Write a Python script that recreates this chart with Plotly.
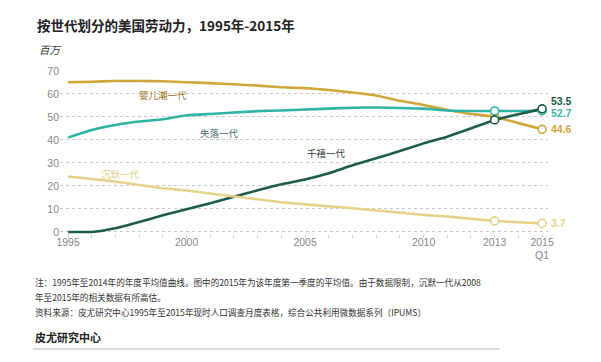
import plotly.graph_objects as go

years = list(range(1995, 2016))
boomers = [65.1, 65.3, 65.6, 65.6, 65.5, 65.1, 64.7, 64.2, 63.6, 62.9, 62.5, 61.7, 60.6, 59.3, 57.0, 55.2, 53.0, 51.3, 50.1, 47.3, 44.6]
genx = [41.0, 44.3, 46.5, 48.0, 49.0, 50.7, 51.3, 51.9, 52.5, 52.8, 53.2, 53.6, 54.0, 54.1, 53.9, 53.6, 52.8, 52.6, 52.6, 52.6, 52.7]
millennials = [0.0, 0.0, 1.6, 4.3, 7.2, 9.9, 12.5, 15.3, 18.1, 20.7, 22.8, 25.5, 29.0, 32.0, 35.2, 38.5, 41.4, 45.0, 48.7, 51.2, 53.5]
silent = [24.1, 23.0, 21.9, 20.4, 19.0, 18.0, 16.7, 15.4, 14.2, 12.9, 12.0, 11.1, 10.3, 9.3, 8.4, 7.4, 6.7, 5.7, 4.8, 4.2, 3.7]

series_names = ["婴儿潮一代", "失落一代", "千禧一代", "沉默一代"]
series_values = [boomers, genx, millennials, silent]
line_colors = ["#cfa63c", "#2fb3a3", "#1c5c48", "#e6d38a"]
label_colors = ["#a0701c", "#3f6d66", "#2a3a35", "#e2cf86"]
end_label_colors = ["#cfa63c", "#3bb5a6", "#1c5c48", "#e6d38a"]
label_pos = [(1999.0, 59.6), (2001.4, 43.0), (2005.9, 34.3), (1997.2, 25.2)]
end_label_y = [44.8, 51.9, 57.1, 3.9]

marker_years = [2013, 2015]
tick_vals = [1995, 2000, 2005, 2010, 2013, 2015]
tick_text = ["1995", "2000", "2005", "2010", "2013", "2015<br>Q1"]

W, H = 601, 362
OFF = 8  # default body margin of the page
L, R, T, B = 60 - OFF, 548 - OFF, 70 - OFF, 234 - OFF
PW, PH = R - L, B - T


def px_x(px):
    return (px - OFF - L) / PW


def px_y(py):
    return (B - (py - OFF)) / PH


fig = go.Figure()
for name, vals, col in zip(series_names, series_values, line_colors):
    fig.add_trace(go.Scatter(x=years, y=vals, mode="lines", name=name,
                             line=dict(color=col, width=2.6, shape="spline", smoothing=0.4),
                             hoverinfo="skip"))
for name, vals, col in zip(series_names, series_values, line_colors):
    my = [vals[years.index(y)] for y in marker_years]
    fig.add_trace(go.Scatter(x=marker_years, y=my, mode="markers",
                             marker=dict(symbol="circle", size=8, color="white",
                                         line=dict(color=col, width=1.6)),
                             hoverinfo="skip"))

annotations = []
for name, (ax, ay), col in zip(series_names, label_pos, label_colors):
    annotations.append(dict(x=ax, y=ay, xref="x", yref="y", text=name, showarrow=False,
                            font=dict(size=9.5, color=col, family="Noto Sans CJK SC")))
for vals, ey, col in zip(series_values, end_label_y, end_label_colors):
    annotations.append(dict(x=2015, y=ey, xref="x", yref="y", text="<b>%.1f</b>" % vals[-1],
                            showarrow=False, xanchor="left", xshift=7,
                            font=dict(size=10.5, color=col, family="Liberation Sans")))

text_items = [
    (35, 25, "<b>按世代划分的美国劳动力，1995年-2015年</b>", 13.5, "#222"),
    (37, 50, "<i>百万</i>", 10.5, "#333"),
    (33, 282, "注：1995年至2014年的年度平均值曲线。图中的2015年为该年度第一季度的平均值。由于数据限制，沉默一代从2008", 8.6, "#333"),
    (33, 297, "年至2015年的相关数据有所高估。", 8.6, "#333"),
    (33, 312, "资料来源：皮尤研究中心1995年至2015年现时人口调查月度表格，综合公共利用微数据系列（IPUMS）", 8.6, "#333"),
    (33, 337, "<b>皮尤研究中心</b>", 11, "#222"),
]
for px, py, txt, size, col in text_items:
    annotations.append(dict(x=px_x(px), y=px_y(py), xref="paper", yref="paper", text=txt,
                            showarrow=False, xanchor="left", yanchor="middle",
                            font=dict(size=size, color=col, family="Noto Sans CJK SC")))

fig.update_layout(
    width=W, height=H, margin=dict(l=L, r=W - R, t=T, b=H - B),
    paper_bgcolor="white", plot_bgcolor="white", showlegend=False,
    annotations=annotations,
    shapes=[
        dict(type="line", xref="paper", yref="paper",
             x0=px_x(38), x1=px_x(610), y0=px_y(3), y1=px_y(3),
             line=dict(color="#d8d8d8", width=2)),
        dict(type="line", xref="paper", yref="paper",
             x0=px_x(33), x1=px_x(500), y0=px_y(349), y1=px_y(349),
             line=dict(color="#d0d0d0", width=1.5)),
    ],
    xaxis=dict(range=[1994.66, 2015.25], tickvals=tick_vals, ticktext=tick_text,
               showgrid=False, zeroline=False, showline=False, ticks="",
               tickfont=dict(size=10.5, color="#888", family="Liberation Sans"),
               minor=dict(ticks="outside", dtick=1, ticklen=3, tickcolor="#ccc", showgrid=False)),
    yaxis=dict(range=[-0.9, 70.4], tickvals=[0, 10, 20, 30, 40, 50, 60, 70],
               showgrid=True, gridcolor="#c8c8c8", griddash="dot", gridwidth=1,
               zeroline=False, showline=False, ticks="",
               tickfont=dict(size=10.5, color="#888", family="Liberation Sans")),
)

fig.write_html("out.html")
